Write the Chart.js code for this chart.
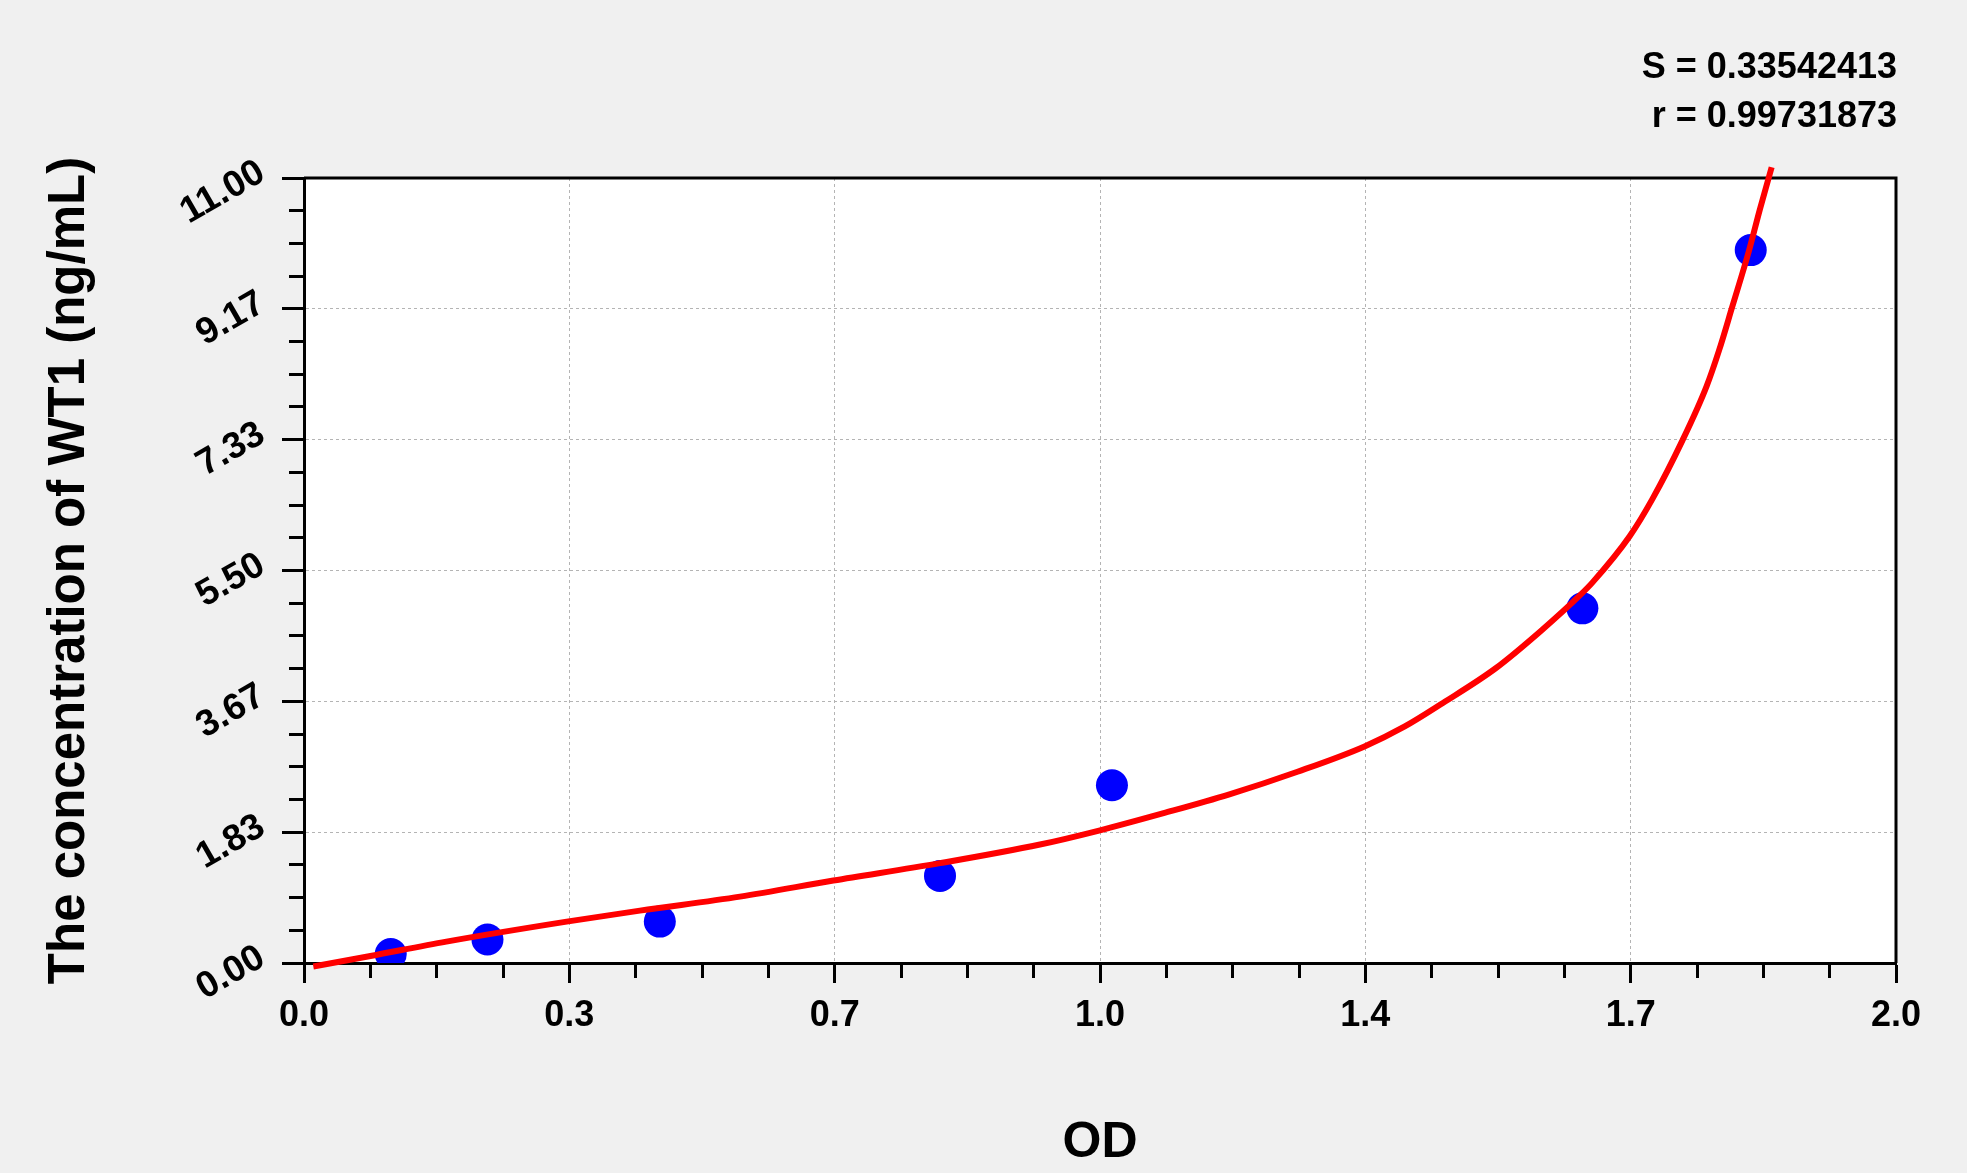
<!DOCTYPE html>
<html><head><meta charset="utf-8">
<script src="https://cdn.jsdelivr.net/npm/chart.js@4/dist/chart.umd.min.js"></script>
<style>html,body{margin:0;padding:0;background:#f0f0f0;overflow:hidden}canvas{display:block}</style>
</head><body>
<canvas id="c" width="1967" height="1173" style="width:1967px;height:1173px"></canvas>
<script>
// Standard points (OD vs concentration)
const stdOD   = [0.109, 0.2305, 0.447, 0.799, 1.015, 1.606, 1.8175];
const stdConc = [0.125, 0.33, 0.58, 1.22, 2.49, 4.97, 9.99];
// Fitted curve
const curveOD   = [0.0117, 0.0835, 0.1789, 0.330, 0.422, 0.5477, 0.665, 0.799, 0.9246, 0.9988, 1.080, 1.1616, 1.2481, 1.3323, 1.3829, 1.4308, 1.4971, 1.5556, 1.6018, 1.6185, 1.6654, 1.6939, 1.7316, 1.762, 1.7776, 1.7944, 1.8153, 1.829, 1.8438];
const curveConc = [-0.05, 0.098, 0.30, 0.58, 0.734, 0.930, 1.155, 1.399, 1.66, 1.856, 2.10, 2.36, 2.68, 3.035, 3.315, 3.644, 4.13, 4.67, 5.14, 5.33, 5.98, 6.50, 7.32, 8.08, 8.58, 9.20, 9.98, 10.56, 11.15];
const xTickLabels = ['0.0', '0.3', '0.7', '1.0', '1.4', '1.7', '2.0'];
const yTickLabels = ['0.00', '1.83', '3.67', '5.50', '7.33', '9.17', '11.00'];
const fitStats = ['S = 0.33542413', 'r = 0.99731873'];
const xTitle = 'OD';
const yTitle = 'The concentration of WT1 (ng/mL)';

const FONT = "'Liberation Sans', Arial, sans-serif";
const majorColor = c => (c.index % 4 === 0 ? '#b4b4b4' : 'rgba(0,0,0,0)');

const framePlugin = {
  id: 'frame',
  beforeDraw(chart) {
    const {ctx, chartArea: a} = chart;
    ctx.save();
    ctx.fillStyle = '#f0f0f0';
    ctx.fillRect(0, 0, chart.width, chart.height);
    ctx.fillStyle = '#ffffff';
    ctx.fillRect(a.left, a.top, a.right - a.left, a.bottom - a.top);
    ctx.restore();
  },
  beforeDatasetsDraw(chart) {
    const {ctx, chartArea: a} = chart;
    ctx.save();
    ctx.strokeStyle = '#000';
    ctx.lineWidth = 3;
    ctx.beginPath();
    ctx.moveTo(a.left, a.top);
    ctx.lineTo(a.right, a.top);
    ctx.lineTo(a.right, a.bottom);
    ctx.stroke();
    ctx.restore();
  },
  afterDraw(chart) {
    const {ctx} = chart;
    const ys = chart.scales.y;
    ctx.save();
    ctx.fillStyle = '#000';
    ctx.font = 'bold 37px ' + FONT;
    ctx.textAlign = 'right';
    ctx.textBaseline = 'middle';
    ys.ticks.forEach((t, i) => {
      if (i % 4 !== 0) return;
      const py = ys.getPixelForValue(t.value);
      ctx.save();
      ctx.translate(ys.right - 42, py - 8);
      ctx.rotate(-Math.PI / 6);
      ctx.fillText(yTickLabels[i / 4], 0, 0);
      ctx.restore();
    });
    ctx.font = 'bold 36px ' + FONT;
    ctx.textAlign = 'right';
    ctx.textBaseline = 'alphabetic';
    fitStats.forEach((s, i) => ctx.fillText(s, chart.chartArea.right + 1, 78 + i * 48.5));
    ctx.restore();
  }
};

new Chart(document.getElementById('c'), {
  type: 'scatter',
  data: {
    datasets: [
      {
        label: 'fit',
        data: curveOD.map((x, i) => ({x: x, y: curveConc[i]})),
        showLine: true,
        borderColor: '#ff0000',
        borderWidth: 6,
        pointRadius: 0,
        cubicInterpolationMode: 'monotone',
        clip: false,
        order: 0
      },
      {
        label: 'standards',
        data: stdOD.map((x, i) => ({x: x, y: stdConc[i]})),
        pointRadius: 16,
        pointHoverRadius: 16,
        backgroundColor: '#0000ff',
        borderWidth: 0,
        order: 1
      }
    ]
  },
  options: {
    responsive: false,
    animation: false,
    devicePixelRatio: 1,
    layout: {padding: {top: 178, right: 71, left: 0, bottom: 0}},
    plugins: {legend: {display: false}, tooltip: {enabled: false}},
    scales: {
      x: {
        type: 'linear', min: 0, max: 2,
        afterFit(s) { s.height = 210; },
        ticks: {
          stepSize: 2 / 24, autoSkip: false, maxRotation: 0, minRotation: 0, padding: 11,
          color: '#000', font: {family: FONT, size: 36, weight: 'bold'},
          callback: (v, i) => (i % 4 === 0 ? xTickLabels[i / 4] : '')
        },
        grid: {
          color: majorColor, lineWidth: 1, tickLength: 20, tickColor: '#000', tickWidth: 3,
          tickBorderDash: c => (c.index % 4 === 0 ? [] : [13, 100])
        },
        border: {display: true, color: '#000', width: 3, dash: [3, 3]},
        title: {display: true, text: xTitle, color: '#000', font: {family: FONT, size: 50, weight: 'bold'}, padding: {top: 28, bottom: 0}}
      },
      y: {
        type: 'linear', min: 0, max: 11,
        afterFit(s) { s.width = 304; },
        ticks: {display: false, stepSize: 11 / 24, autoSkip: false},
        grid: {
          color: majorColor, lineWidth: 1, tickLength: 22, tickColor: '#000', tickWidth: 3,
          tickBorderDash: c => (c.index % 4 === 0 ? [] : [0, 7, 100])
        },
        border: {display: true, color: '#000', width: 3, dash: [3, 3]},
        title: {display: true, text: yTitle, color: '#000', font: {family: FONT, size: 51, weight: 'bold'}, padding: {top: 39, bottom: 0}}
      }
    }
  },
  plugins: [framePlugin]
});
</script>
</body></html>
